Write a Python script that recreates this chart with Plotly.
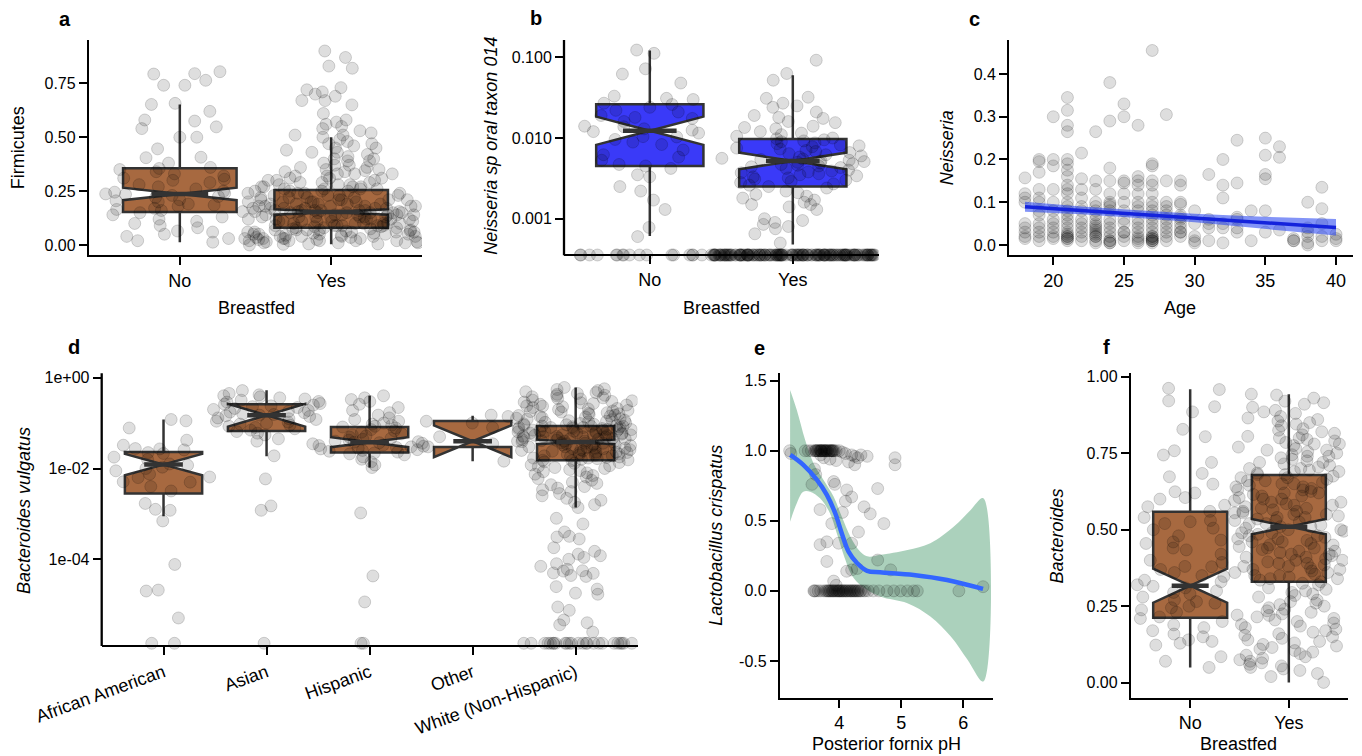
import numpy as np
import plotly.graph_objects as go

W, H = 1362, 756
FONT = "Liberation Sans, Arial, Helvetica, sans-serif"

# ============================ DATA ============================
breastfed_labels = ["No", "Yes"]

# ---- panel a: Firmicutes by breastfed ----
firmicutes_no = [0.804, 0.795, 0.793, 0.764, 0.741, 0.741, 0.657, 0.652, 0.62, 0.58, 0.575, 0.548,
                 0.54, 0.5, 0.5, 0.446, 0.407, 0.405, 0.38, 0.36, 0.355, 0.35, 0.34, 0.33, 0.32, 0.31,
                 0.305, 0.30, 0.29, 0.28, 0.27, 0.26, 0.25, 0.245, 0.24, 0.237, 0.235, 0.23, 0.225,
                 0.22, 0.21, 0.205, 0.2, 0.19, 0.185, 0.18, 0.17, 0.165, 0.16, 0.155, 0.15, 0.14, 0.13,
                 0.12, 0.11, 0.1, 0.09, 0.08, 0.065, 0.06, 0.05, 0.04, 0.03, 0.02, 0.013]
firmicutes_yes = [0.90, 0.87, 0.83, 0.82, 0.73, 0.72, 0.71, 0.70, 0.69, 0.67, 0.67, 0.65, 0.61, 0.58,
                  0.57, 0.56, 0.55, 0.54, 0.53, 0.52, 0.51, 0.51,
                  0.50, 0.49, 0.48, 0.47, 0.47, 0.46, 0.45, 0.45, 0.44, 0.43, 0.43, 0.42, 0.41, 0.40,
                  0.40, 0.39, 0.39, 0.38, 0.37, 0.37, 0.36, 0.36, 0.35, 0.35,
                  0.345, 0.34, 0.34, 0.33, 0.33, 0.33, 0.32, 0.32, 0.31, 0.31, 0.31, 0.30, 0.30, 0.30,
                  0.29, 0.29, 0.29, 0.28, 0.28, 0.28, 0.27, 0.27, 0.27, 0.27, 0.26, 0.26, 0.26, 0.26,
                  0.25, 0.25, 0.25, 0.25, 0.24, 0.24, 0.24, 0.24, 0.23, 0.23, 0.23, 0.23, 0.22, 0.22,
                  0.22, 0.22, 0.21, 0.21, 0.21, 0.21, 0.21, 0.20, 0.20, 0.20, 0.20, 0.20, 0.19, 0.19,
                  0.19, 0.19, 0.19, 0.18, 0.18, 0.18, 0.18, 0.18, 0.18, 0.17, 0.17, 0.17, 0.17, 0.17,
                  0.17, 0.16, 0.16, 0.16, 0.16, 0.16, 0.16, 0.155, 0.155, 0.155,
                  0.15, 0.15, 0.15, 0.15, 0.15, 0.15, 0.14, 0.14, 0.14, 0.14, 0.14, 0.14, 0.14, 0.13,
                  0.13, 0.13, 0.13, 0.13, 0.13, 0.13, 0.12, 0.12, 0.12, 0.12, 0.12, 0.12, 0.11, 0.11,
                  0.11, 0.11, 0.11, 0.11, 0.10, 0.10, 0.10, 0.10, 0.10, 0.10, 0.09, 0.09, 0.09, 0.09,
                  0.09, 0.09, 0.085, 0.085, 0.08, 0.08, 0.08,
                  0.075, 0.075, 0.07, 0.07, 0.07, 0.07, 0.07, 0.065, 0.065, 0.06, 0.06, 0.06, 0.06,
                  0.06, 0.055, 0.055, 0.05, 0.05, 0.05, 0.05, 0.05, 0.045, 0.045, 0.04, 0.04, 0.04,
                  0.04, 0.04, 0.035, 0.035, 0.03, 0.03, 0.03, 0.03, 0.03, 0.025, 0.025, 0.02, 0.02,
                  0.02, 0.02, 0.02, 0.015, 0.015, 0.01, 0.01, 0.01, 0.01, 0.005, 0.005, 0.003, 0.0]
firm_q1 = [0.153, 0.080]
firm_median = [0.237, 0.153]
firm_q3 = [0.356, 0.255]
firm_low = [0.013, 0.003]
firm_high = [0.652, 0.500]
firm_notch = [0.029, 0.0125]

# ---- panel b: Neisseria sp oral taxon 014 (relative abundance, 0 = not detected) ----
neis014_no = [0.123, 0.112, 0.072, 0.062, 0.048, 0.033, 0.031, 0.030, 0.027, 0.026, 0.024, 0.022,
              0.021, 0.019, 0.018, 0.0175, 0.016, 0.014, 0.0138, 0.013, 0.0125, 0.012, 0.0115,
              0.0104, 0.0103, 0.0096, 0.0089, 0.0083, 0.0071, 0.0062, 0.0058, 0.0053, 0.0047,
              0.0045, 0.0042, 0.0035, 0.0033, 0.0025, 0.0022, 0.0017, 0.0013, 0.00078, 0.0006] + [0.0] * 18
neis014_yes = [0.092, 0.063, 0.052, 0.032, 0.031, 0.027, 0.025, 0.024, 0.021, 0.019, 0.018, 0.0175,
               0.016, 0.0155, 0.014, 0.0135, 0.013, 0.012, 0.0115, 0.011, 0.0105, 0.010, 0.0098,
               0.0095, 0.0092, 0.009, 0.0087, 0.0085, 0.0082, 0.008, 0.0078, 0.0075, 0.0073, 0.007,
               0.0068, 0.0066, 0.0064, 0.0062, 0.006, 0.0058, 0.0056, 0.0055, 0.0054, 0.0053, 0.0052,
               0.0051, 0.005, 0.0049, 0.0048, 0.0047, 0.0046, 0.0045, 0.0044, 0.0043, 0.0042, 0.004,
               0.0039, 0.0038, 0.0037, 0.0036, 0.0035, 0.0034, 0.0033, 0.0032, 0.0031, 0.003, 0.0029,
               0.0028, 0.0027, 0.0026, 0.0025, 0.0024, 0.0022, 0.0021, 0.002, 0.0019, 0.0018, 0.0017,
               0.0016, 0.0015, 0.0015, 0.0014, 0.0013, 0.001, 0.00095, 0.0009, 0.00085, 0.0008,
               0.00075, 0.00065, 0.0005] + [0.0] * 150
neis_q1 = [0.0045, 0.0025]
neis_median = [0.0123, 0.0052]
neis_q3 = [0.0262, 0.0097]
neis_low = [0.00061, 0.00048]
neis_high = [0.121, 0.060]
neis_notch_decades = [0.175, 0.103]

# ---- panel c: Neisseria vs Age ----
age_levels = [18, 19, 20, 21, 22, 23, 24, 25, 26, 27, 28, 29, 30, 31, 32, 33, 34, 35, 36, 37, 38, 39, 40]
neisseria_by_age = [
    [0.157, 0.12, 0.11, 0.10, 0.05, 0.04, 0.03, 0.02, 0.015],
    [0.20, 0.195, 0.17, 0.13, 0.11, 0.10, 0.08, 0.07, 0.05, 0.04, 0.03, 0.02, 0.01],
    [0.30, 0.20, 0.185, 0.13, 0.10, 0.08, 0.06, 0.05, 0.04, 0.03, 0.02, 0.015],
    [0.345, 0.315, 0.28, 0.265, 0.20, 0.19, 0.175, 0.16, 0.14, 0.13, 0.12, 0.10, 0.09, 0.08, 0.07,
     0.06, 0.05, 0.04, 0.03, 0.025, 0.02, 0.02, 0.015, 0.015, 0.01],
    [0.215, 0.155, 0.13, 0.11, 0.09, 0.08, 0.06, 0.05, 0.04, 0.03, 0.02, 0.01],
    [0.265, 0.15, 0.13, 0.10, 0.09, 0.08, 0.07, 0.06, 0.05, 0.045, 0.04, 0.035, 0.03, 0.025, 0.02,
     0.02, 0.01, 0.005],
    [0.38, 0.29, 0.18, 0.15, 0.12, 0.10, 0.095, 0.09, 0.08, 0.06, 0.05, 0.04, 0.03, 0.02, 0.01, 0.01,
     0.005, 0.005],
    [0.33, 0.30, 0.15, 0.145, 0.12, 0.10, 0.08, 0.06, 0.05, 0.03, 0.03, 0.02, 0.01],
    [0.28, 0.16, 0.15, 0.14, 0.12, 0.10, 0.09, 0.08, 0.06, 0.05, 0.04, 0.03, 0.02, 0.015, 0.01, 0.005],
    [0.455, 0.19, 0.185, 0.15, 0.14, 0.12, 0.10, 0.09, 0.08, 0.07, 0.06, 0.05, 0.04, 0.03, 0.02,
     0.02, 0.015, 0.015, 0.01, 0.01, 0.01, 0.005],
    [0.305, 0.15, 0.10, 0.09, 0.08, 0.07, 0.06, 0.05, 0.04, 0.03, 0.02, 0.01],
    [0.15, 0.14, 0.10, 0.095, 0.07, 0.065, 0.06, 0.05, 0.04, 0.03, 0.03, 0.02],
    [0.08, 0.05, 0.02, 0.01, 0.005],
    [0.165, 0.06, 0.05, 0.04, 0.01],
    [0.20, 0.14, 0.11, 0.05, 0.04, 0.005],
    [0.245, 0.145, 0.065, 0.06, 0.04, 0.03],
    [0.08, 0.01],
    [0.25, 0.21, 0.165, 0.155, 0.08, 0.03],
    [0.23, 0.205, 0.035],
    [0.015, 0.01, 0.01],
    [0.10, 0.04, 0.03, 0.02, 0.005, 0.0],
    [0.135, 0.085, 0.05, 0.02, 0.01],
    [0.025, 0.015, 0.01],
]
age_fit_x = [18, 40]
age_fit_y = [0.0896, 0.041]
age_band_x = [18, 22, 26, 30, 34, 40]
age_band_lo = [0.078, 0.072, 0.063, 0.053, 0.041, 0.022]
age_band_hi = [0.101, 0.090, 0.081, 0.073, 0.067, 0.061]

# ---- panel d: Bacteroides vulgatus by ethnicity (relative abundance, 0 = not detected) ----
ethnicity_labels = ["African American", "Asian", "Hispanic", "Other", "White (Non-Hispanic)"]
bv_african_american = [0.12, 0.112, 0.078, 0.042, 0.0326, 0.0275, 0.027, 0.0257, 0.0224, 0.0214,
                       0.0178, 0.0158, 0.0126, 0.0118, 0.0107, 0.010, 0.0089, 0.0075, 0.0065, 0.0063,
                       0.0051, 0.005, 0.004, 0.0032, 0.0017, 0.0012, 0.00126, 0.0007, 7.7e-5, 2.1e-5,
                       2.0e-5, 5.1e-6, 0.0, 0.0]
bv_asian = [0.52, 0.45, 0.42, 0.40, 0.38, 0.36, 0.34, 0.32, 0.30, 0.29, 0.27, 0.26, 0.25, 0.24, 0.23,
            0.22, 0.21, 0.20, 0.19, 0.18, 0.175, 0.17, 0.16, 0.155, 0.15, 0.145, 0.14, 0.13, 0.125,
            0.12, 0.11, 0.105, 0.10, 0.095, 0.09, 0.085, 0.08, 0.075, 0.07, 0.065, 0.06, 0.055, 0.045,
            0.04, 0.019, 0.0059, 0.0015, 0.0012, 0.0]
bv_hispanic = [0.40, 0.36, 0.33, 0.30, 0.26, 0.22, 0.19, 0.17, 0.15, 0.13, 0.12, 0.11, 0.10, 0.095,
               0.09, 0.085, 0.082, 0.078, 0.072, 0.068, 0.063, 0.058, 0.055, 0.052, 0.049, 0.046,
               0.044, 0.042, 0.04, 0.039, 0.038, 0.037, 0.036, 0.035, 0.033, 0.032, 0.031, 0.03,
               0.029, 0.028, 0.027, 0.026, 0.025, 0.024, 0.023, 0.022, 0.021, 0.02, 0.018, 0.016,
               0.014, 0.012, 0.0105, 0.00105, 4.3e-5, 1.15e-5, 0.0, 0.0]
bv_other = [0.15, 0.14, 0.11, 0.10, 0.08, 0.05, 0.04, 0.035, 0.03, 0.0145]
bv_white = [0.61, 0.57, 0.55, 0.52, 0.49, 0.47, 0.45, 0.43, 0.41, 0.40, 0.38, 0.36, 0.35, 0.34, 0.32,
            0.31, 0.30, 0.29, 0.28, 0.27, 0.26, 0.25, 0.24, 0.235, 0.23, 0.22, 0.21, 0.205, 0.20,
            0.19, 0.185, 0.18, 0.175, 0.17, 0.165, 0.16, 0.155, 0.15, 0.147, 0.143, 0.14, 0.136,
            0.132, 0.128, 0.125, 0.122, 0.119, 0.116, 0.113, 0.11, 0.107, 0.104, 0.101, 0.098, 0.096,
            0.094, 0.092, 0.09, 0.088,
            0.086, 0.085, 0.085, 0.083, 0.082, 0.08, 0.08, 0.079, 0.077, 0.076, 0.075, 0.075, 0.073,
            0.072, 0.07, 0.07, 0.069, 0.068, 0.066, 0.065, 0.065, 0.064, 0.062, 0.061, 0.06, 0.06,
            0.059, 0.057, 0.056, 0.055, 0.055, 0.054, 0.053, 0.052, 0.051, 0.05, 0.05, 0.049, 0.048,
            0.047, 0.046, 0.045, 0.045, 0.044, 0.043, 0.042, 0.041, 0.04, 0.04, 0.039,
            0.038, 0.037, 0.036, 0.036, 0.035, 0.034, 0.033, 0.033, 0.032, 0.031, 0.03, 0.03, 0.029,
            0.028, 0.028, 0.0275, 0.027, 0.026, 0.026, 0.025, 0.0245, 0.024, 0.023, 0.023, 0.0225,
            0.022, 0.021, 0.021, 0.0205, 0.02, 0.0195, 0.019, 0.019, 0.0185, 0.018, 0.0175, 0.017,
            0.017, 0.0165, 0.016, 0.0155, 0.0152,
            0.015, 0.014, 0.0135, 0.013, 0.012, 0.0115, 0.011, 0.0105, 0.01, 0.0095, 0.009, 0.0085,
            0.008, 0.0075, 0.007, 0.0065, 0.006, 0.0055, 0.005, 0.0047, 0.0044, 0.004, 0.0037,
            0.0034, 0.0031, 0.0028, 0.0025, 0.0022, 0.002, 0.0018, 0.0016, 0.00138,
            0.0008, 0.0006, 0.0004, 0.00032, 0.00028, 0.00031, 0.00011, 0.00012, 0.00013, 0.00015,
            0.00018, 0.0001, 8e-5, 7e-5, 6e-5, 4.9e-5, 4.2e-5, 5.5e-5, 5.0e-5, 5.6e-5, 4.4e-5, 2.5e-5,
            2.2e-5, 1.7e-5, 1.8e-5, 8.9e-6, 7.5e-6, 4.6e-6, 4.0e-6, 3.6e-6, 2.5e-6] + [0.0] * 25
bv_q1 = [0.00281, 0.0673, 0.0225, 0.0299, 0.01524]
bv_median = [0.0122, 0.149, 0.038, 0.0398, 0.0385]
bv_q3 = [0.0232, 0.261, 0.0824, 0.1117, 0.0867]
bv_low = [0.00089, 0.0187, 0.0105, 0.01445, 0.00138]
bv_high = [0.12, 0.53, 0.40, 0.145, 0.608]
bv_notch_decades = [0.236, 0.25, 0.11, 0.35, 0.05]

# ---- panel e: Lactobacillus crispatus vs posterior fornix pH ----
fornix_ph = [3.20, 3.22, 3.45, 3.50, 3.55, 3.60, 3.62, 3.65, 3.68, 3.70, 3.70, 3.72, 3.75, 3.75, 3.78,
             3.80, 3.82, 3.85, 3.88, 3.90, 3.92, 3.95, 4.00, 4.05, 4.10, 4.20, 4.25, 4.30, 4.35, 4.45,
             3.62, 3.64, 3.66, 3.70, 3.72, 3.76, 3.78, 3.80, 3.84, 3.86, 3.88, 3.90,
             3.70, 3.75, 3.85, 3.95, 4.15, 4.25, 4.90, 4.90,
             3.60, 3.62, 3.56, 3.69, 3.91, 3.93, 4.12, 4.20, 4.10, 4.62, 4.40, 4.50, 4.72, 3.88, 4.31,
             3.69, 3.80, 3.99, 4.20, 3.80, 4.12, 4.20, 4.62, 4.83, 3.91, 4.29, 3.95, 4.05,
             3.59, 3.60, 3.70, 3.75, 3.78, 3.80, 3.83, 3.85, 3.88, 3.90, 3.92, 3.95, 3.97, 4.00, 4.00,
             4.03, 4.05, 4.07, 4.10, 4.12, 4.15, 4.18, 4.20, 4.23, 4.25, 4.28, 4.31, 4.35, 4.39, 4.42,
             3.62, 3.66, 3.82, 3.86, 3.90, 3.94, 3.98, 4.02, 4.06, 4.10, 4.14, 4.18, 4.22, 4.26, 4.30, 4.34,
             4.47, 4.55, 4.64, 4.77, 4.88, 4.99, 5.10, 5.20, 5.26, 5.93, 6.32]
crispatus = [1.00, 0.98, 1.00, 1.00, 1.00, 1.00, 1.00, 1.00, 1.00, 1.00, 1.00, 1.00, 1.00, 1.00, 1.00,
             1.00, 1.00, 1.00, 1.00, 1.00, 1.00, 1.00, 1.00, 0.99, 0.98, 0.97, 0.96, 0.95, 0.97, 0.96,
             1.00, 1.00, 1.00, 1.00, 1.00, 1.00, 1.00, 1.00, 1.00, 1.00, 1.00, 1.00,
             0.97, 0.95, 0.94, 0.93, 0.92, 0.90, 0.95, 0.90,
             0.87, 0.83, 0.76, 0.58, 0.78, 0.76, 0.72, 0.67, 0.64, 0.73, 0.60, 0.55, 0.48, 0.48, 0.42,
             0.33, 0.35, 0.34, 0.34, 0.21, 0.14, 0.15, 0.22, 0.15, 0.07, 0.16, 0.04, 0.56,
             0.0, 0.0, 0.0, 0.0, 0.0, 0.0, 0.0, 0.0, 0.0, 0.0, 0.0, 0.0, 0.0, 0.0, 0.0,
             0.0, 0.0, 0.0, 0.0, 0.0, 0.0, 0.0, 0.0, 0.0, 0.0, 0.0, 0.0, 0.0, 0.0, 0.0,
             0.0, 0.0, 0.0, 0.0, 0.0, 0.0, 0.0, 0.0, 0.0, 0.0, 0.0, 0.0, 0.0, 0.0, 0.0, 0.0,
             0.0, 0.0, 0.0, 0.0, 0.0, 0.0, 0.0, 0.0, 0.0, 0.0, 0.03]
loess_x = [3.21, 3.42, 3.64, 3.80, 3.935, 4.04, 4.15, 4.29, 4.45, 4.66, 5.20, 5.74, 6.32]
loess_y = [0.97, 0.899, 0.792, 0.685, 0.554, 0.412, 0.28, 0.197, 0.143, 0.133, 0.114, 0.078, 0.014]
loess_up_x = [3.207, 3.315, 3.45, 3.584, 3.746, 3.908, 4.04, 4.18, 4.34, 4.47, 4.66, 5.10, 5.47, 5.85, 6.12, 6.325]
loess_up_y = [1.434, 1.291, 1.077, 0.911, 0.792, 0.673, 0.53, 0.387, 0.28, 0.245, 0.257, 0.292, 0.34, 0.459, 0.578, 0.661]
loess_lo_x = [3.207, 3.315, 3.42, 3.53, 3.69, 3.85, 3.96, 4.10, 4.20, 4.37, 4.66, 5.10, 5.47, 5.80, 6.07, 6.325]
loess_lo_y = [0.494, 0.626, 0.708, 0.708, 0.661, 0.554, 0.412, 0.221, 0.114, 0.031, -0.04, -0.088, -0.183, -0.326, -0.492, -0.647]

# ---- panel f: Bacteroides by breastfed ----
bacteroides_no = [0.962, 0.958, 0.921, 0.902, 0.885, 0.828, 0.804, 0.758, 0.744, 0.72, 0.684, 0.673,
                  0.649, 0.624, 0.62, 0.605, 0.60, 0.58, 0.575, 0.56, 0.555, 0.54, 0.53, 0.526, 0.52,
                  0.505, 0.50, 0.48, 0.466, 0.46, 0.455, 0.44, 0.434, 0.42, 0.40, 0.393, 0.38, 0.379,
                  0.37, 0.36, 0.35, 0.347, 0.335, 0.33, 0.32, 0.315, 0.31, 0.30, 0.295, 0.29, 0.28,
                  0.27, 0.265, 0.26, 0.25, 0.245, 0.238, 0.23, 0.221, 0.215, 0.21, 0.2, 0.189, 0.18,
                  0.17, 0.159, 0.15, 0.14, 0.135, 0.129, 0.123, 0.085, 0.07, 0.05]
bacteroides_yes = [0.943, 0.94, 0.93, 0.92, 0.915, 0.91, 0.90, 0.89, 0.885, 0.88, 0.87, 0.865, 0.86,
                   0.855, 0.85, 0.845, 0.84, 0.83, 0.825, 0.82, 0.815, 0.81, 0.805, 0.80, 0.80, 0.795,
                   0.79, 0.785, 0.78, 0.78, 0.775, 0.77, 0.765, 0.76, 0.76, 0.755, 0.75, 0.745, 0.74,
                   0.74, 0.735, 0.73, 0.725, 0.72, 0.72, 0.715, 0.71, 0.705, 0.70, 0.70, 0.695, 0.69,
                   0.69, 0.685, 0.68, 0.68,
                   0.675, 0.67, 0.67, 0.665, 0.66, 0.66, 0.655, 0.65, 0.65, 0.645, 0.64, 0.64, 0.635,
                   0.63, 0.63, 0.625, 0.62, 0.62, 0.615, 0.61, 0.61, 0.605, 0.60, 0.60, 0.595, 0.59,
                   0.59, 0.585, 0.58, 0.58, 0.575, 0.57, 0.57, 0.565, 0.56, 0.56, 0.555, 0.55, 0.55,
                   0.545, 0.54, 0.54, 0.535, 0.53, 0.53, 0.525, 0.52, 0.52, 0.515, 0.51, 0.51,
                   0.505, 0.50, 0.50, 0.495, 0.49, 0.49, 0.485, 0.48, 0.48, 0.475, 0.47, 0.47, 0.465,
                   0.46, 0.46, 0.455, 0.45, 0.45, 0.445, 0.44, 0.44, 0.435, 0.43, 0.43, 0.425, 0.42,
                   0.42, 0.415, 0.41, 0.41, 0.405, 0.40, 0.40, 0.395, 0.39, 0.39, 0.385, 0.38, 0.38,
                   0.375, 0.37, 0.37, 0.365, 0.36, 0.36, 0.355, 0.35, 0.35, 0.345, 0.34, 0.34, 0.335, 0.33,
                   0.325, 0.32, 0.31, 0.305, 0.30, 0.295, 0.29, 0.285, 0.28, 0.27, 0.265, 0.26, 0.255,
                   0.25, 0.245, 0.24, 0.235, 0.23, 0.225, 0.22, 0.215, 0.21, 0.205, 0.20, 0.195, 0.19,
                   0.185, 0.18, 0.175, 0.17, 0.165, 0.16, 0.155, 0.15, 0.145, 0.14, 0.135, 0.13, 0.125,
                   0.12, 0.115, 0.11, 0.105, 0.10, 0.095, 0.09, 0.085, 0.08, 0.075, 0.07, 0.065, 0.06,
                   0.055, 0.05, 0.045, 0.04, 0.03, 0.02, 0.001]
bact_q1 = [0.212, 0.330]
bact_median = [0.317, 0.510]
bact_q3 = [0.559, 0.679]
bact_low = [0.05, 0.001]
bact_high = [0.959, 0.943]
bact_notch = [0.0555, 0.025]

# ============================ STYLE / LAYOUT ============================
PT_FILL = "rgba(0,0,0,0.13)"
PT_EDGE = "rgba(0,0,0,0.16)"
PT_SIZE = 12
EDGE = "#333333"
BROWN = "rgb(167,105,64)"
BLUE = "rgb(58,58,248)"
AX_W = 2.3
BOX_W = 0.75
JIT_W = 1.15

# panel rectangles in pixels (x0, x1), (y0, y1)
P = {
    1: ((89, 422), (40, 255)),
    2: ((564, 878.6), (40, 262)),
    3: ((1009.3, 1352.7), (40, 255.3)),
    4: ((101.7, 637.5), (373.3, 651)),
    5: ((780, 992.7), (373.3, 697.7)),
    6: ((1131, 1348), (373.3, 697.7)),
}
B_ZERO = -3.45     # where undetected values sit on panel b's log axis
D_ZERO = -5.85     # same for panel d


def to_log(vals, floor):
    v = np.asarray(vals, dtype=float)
    out = np.full(v.shape, floor)
    out[v > 0] = np.log10(v[v > 0])
    return out


fig = go.Figure()


def ax(i):
    s = "" if i == 1 else str(i)
    return "x" + s, "y" + s


def add_boxes(i, q1, med, q3, lo, hi, ns, fill):
    xa, ya = ax(i)
    pos = list(range(1, len(q1) + 1))
    fig.add_trace(go.Box(x=pos, q1=q1, median=med, q3=q3, lowerfence=lo, upperfence=hi,
                         notchspan=ns, notched=True, notchwidth=0.5, width=BOX_W,
                         whiskerwidth=0, boxpoints=False, fillcolor=fill,
                         line=dict(color=EDGE, width=2.5), xaxis=xa, yaxis=ya,
                         hoverinfo="skip", showlegend=False))


def add_medians(i, med):
    xa, ya = ax(i)
    half = BOX_W / 2 * 0.5
    for p, m in enumerate(med, start=1):
        fig.add_trace(go.Scatter(x=[p - half, p + half], y=[m, m], mode="lines",
                                 line=dict(color=EDGE, width=4.5), xaxis=xa, yaxis=ya,
                                 hoverinfo="skip", showlegend=False))


def add_points(i, groups):
    xa, ya = ax(i)
    xs, ys = [], []
    for p, vals in enumerate(groups, start=1):
        xs += [p] * len(vals)
        ys += list(vals)
    fig.add_trace(go.Box(x=xs, y=ys, boxpoints="all", jitter=1, pointpos=0, width=JIT_W,
                         fillcolor="rgba(0,0,0,0)", line=dict(color="rgba(0,0,0,0)", width=0),
                         marker=dict(size=PT_SIZE, color=PT_FILL,
                                     line=dict(color=PT_EDGE, width=1)),
                         xaxis=xa, yaxis=ya, hoverinfo="skip", showlegend=False))


# ---- panel a ----
add_boxes(1, firm_q1, firm_median, firm_q3, firm_low, firm_high, firm_notch, BROWN)
add_points(1, [firmicutes_no, firmicutes_yes])
add_medians(1, firm_median)

# ---- panel b (log10 scale) ----
add_boxes(2, np.log10(neis_q1).tolist(), np.log10(neis_median).tolist(), np.log10(neis_q3).tolist(),
          np.log10(neis_low).tolist(), np.log10(neis_high).tolist(), neis_notch_decades, BLUE)
add_points(2, [to_log(neis014_no, B_ZERO), to_log(neis014_yes, B_ZERO)])
add_medians(2, np.log10(neis_median).tolist())

# ---- panel c ----
c_x, c_y = [], []
for a, vals in zip(age_levels, neisseria_by_age):
    c_x += [a] * len(vals)
    c_y += vals
fig.add_trace(go.Scatter(x=c_x, y=c_y, mode="markers", xaxis="x3", yaxis="y3",
                         marker=dict(size=PT_SIZE, color=PT_FILL, line=dict(color=PT_EDGE, width=1)),
                         hoverinfo="skip", showlegend=False))
fig.add_trace(go.Scatter(x=age_band_x + age_band_x[::-1], y=age_band_hi + age_band_lo[::-1],
                         fill="toself", fillcolor="rgba(30,60,240,0.55)", line=dict(width=0),
                         mode="lines", xaxis="x3", yaxis="y3", hoverinfo="skip", showlegend=False))
fig.add_trace(go.Scatter(x=age_fit_x, y=age_fit_y, mode="lines", line=dict(color="rgb(20,35,220)", width=3.5),
                         xaxis="x3", yaxis="y3", hoverinfo="skip", showlegend=False))

# ---- panel d (log10 scale) ----
add_boxes(4, np.log10(bv_q1).tolist(), np.log10(bv_median).tolist(), np.log10(bv_q3).tolist(),
          np.log10(bv_low).tolist(), np.log10(bv_high).tolist(), bv_notch_decades, BROWN)
add_points(4, [to_log(g, D_ZERO) for g in
               [bv_african_american, bv_asian, bv_hispanic, bv_other, bv_white]])
add_medians(4, np.log10(bv_median).tolist())

# ---- panel e ----
fig.add_trace(go.Scatter(x=loess_up_x + loess_lo_x[::-1], y=loess_up_y + loess_lo_y[::-1],
                         fill="toself", fillcolor="rgba(46,139,87,0.4)", line=dict(width=0, shape="spline"),
                         mode="lines", xaxis="x5", yaxis="y5", hoverinfo="skip", showlegend=False))
fig.add_trace(go.Scatter(x=fornix_ph, y=crispatus, mode="markers", xaxis="x5", yaxis="y5",
                         marker=dict(size=PT_SIZE, color=PT_FILL, line=dict(color=PT_EDGE, width=1)),
                         hoverinfo="skip", showlegend=False))
fig.add_trace(go.Scatter(x=loess_x, y=loess_y, mode="lines",
                         line=dict(color="#3366FF", width=4.5, shape="spline"),
                         xaxis="x5", yaxis="y5", hoverinfo="skip", showlegend=False))

# ---- panel f ----
add_boxes(6, bact_q1, bact_median, bact_q3, bact_low, bact_high, bact_notch, BROWN)
add_points(6, [bacteroides_no, bacteroides_yes])
add_medians(6, bact_median)

# ============================ AXES ============================
common = dict(showgrid=False, zeroline=False, ticks="outside", ticklen=8, tickwidth=AX_W,
              tickcolor="black", linecolor="black", linewidth=AX_W, showline=True,
              automargin=False)
xfont = dict(size=18, color="black", family=FONT)
yfont = dict(size=16, color="black", family=FONT)

x_specs = {
    1: dict(range=[0.4, 2.6], tickvals=[1, 2], ticktext=breastfed_labels),
    2: dict(range=[0.4, 2.6], tickvals=[1, 2], ticktext=breastfed_labels),
    3: dict(range=[16.89, 41.18], tickvals=[20, 25, 30, 35, 40]),
    4: dict(range=[0.4, 5.6], tickvals=[1, 2, 3, 4, 5], ticktext=ethnicity_labels, tickangle=-20),
    5: dict(range=[3.044, 6.476], tickvals=[4, 5, 6]),
    6: dict(range=[0.4, 2.6], tickvals=[1, 2], ticktext=breastfed_labels),
}
y_specs = {
    1: dict(range=[-0.0464, 0.951], tickvals=[0, 0.25, 0.5, 0.75], ticktext=["0.00", "0.25", "0.50", "0.75"]),
    2: dict(range=[-3.5366, -0.7856], tickvals=[-3, -2, -1], ticktext=["0.001", "0.010", "0.100"]),
    3: dict(range=[-0.0241, 0.4795], tickvals=[0, 0.1, 0.2, 0.3, 0.4], ticktext=["0.0", "0.1", "0.2", "0.3", "0.4"]),
    4: dict(range=[-6.0198, 0.0969], tickvals=[-4, -2, 0], ticktext=["1e-04", "1e-02", "1e+00"]),
    5: dict(range=[-0.762, 1.5524], tickvals=[-0.5, 0, 0.5, 1.0, 1.5], ticktext=["-0.5", "0.0", "0.5", "1.0", "1.5"]),
    6: dict(range=[-0.049, 1.0111], tickvals=[0, 0.25, 0.5, 0.75, 1.0], ticktext=["0.00", "0.25", "0.50", "0.75", "1.00"]),
}
free_x_pos = {2: 255.3, 4: 646}

layout_axes = {}
for i, ((x0, x1), (y0, y1)) in P.items():
    s = "" if i == 1 else str(i)
    xd = dict(common, domain=[x0 / W, x1 / W], tickfont=xfont, **x_specs[i])
    yd = dict(common, domain=[1 - y1 / H, 1 - y0 / H], tickfont=yfont, anchor="x" + s, **y_specs[i])
    if i in free_x_pos:
        xd.update(anchor="free", position=1 - free_x_pos[i] / H)
        yd.update(showline=False)
        fig.add_shape(type="line", xref="paper", yref="paper", x0=x0 / W, x1=x0 / W,
                      y0=1 - free_x_pos[i] / H, y1=1 - y0 / H,
                      line=dict(color="black", width=AX_W))
    else:
        xd.update(anchor="y" + s)
    layout_axes["xaxis" + s] = xd
    layout_axes["yaxis" + s] = yd

fig.update_layout(template="none", width=W, height=H, margin=dict(l=0, r=0, t=0, b=0, autoexpand=False),
                  plot_bgcolor="white", paper_bgcolor="white", showlegend=False,
                  boxmode="overlay", font=dict(family=FONT, color="black"), **layout_axes)


# ============================ TEXT ============================
def ann(text, x, y, size=18, angle=0):
    fig.add_annotation(text=text, x=x / W, y=1 - y / H, xref="paper", yref="paper",
                       showarrow=False, textangle=angle, xanchor="center", yanchor="middle",
                       font=dict(size=size, family=FONT, color="black"))


for lab, (x, y) in zip("abcdef", [(64.7, 19), (535.8, 18.5), (974.3, 18.6), (74, 346.7), (759, 348), (1106, 346.7)]):
    ann("<b>%s</b>" % lab, x, y, size=20)

ann("Breastfed", 256, 308)
ann("Firmicutes", 18.3, 148, angle=-90)
ann("Breastfed", 721.7, 308)
ann("<i>Neisseria sp oral taxon 014</i>", 490.7, 146, angle=-90)
ann("Age", 1180, 308)
ann("<i>Neisseria</i>", 946.7, 147.5, angle=-90)
ann("<i>Bacteroides vulgatus</i>", 23.3, 510.8, angle=-90)
ann("Posterior fornix pH", 886.7, 744.3)
ann("<i>Lactobacillus crispatus</i>", 716, 535.8, angle=-90)
ann("Breastfed", 1238.3, 744.3)
ann("<i>Bacteroides</i>", 1056.7, 535.8, angle=-90)

# remove the browser's default page margin so the figure sits at the window's top-left corner
fig.write_html("out.html", config={"displayModeBar": False},
               post_script="document.body.style.margin='0px';document.body.style.overflow='hidden';")
